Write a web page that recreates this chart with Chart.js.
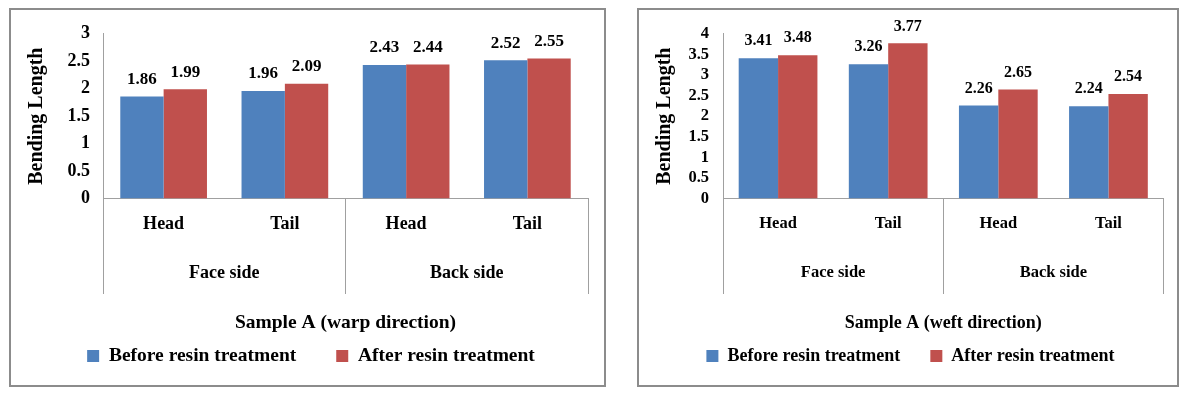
<!DOCTYPE html>
<html><head><meta charset="utf-8">
<script src="https://cdn.jsdelivr.net/npm/chart.js@4.4.1/dist/chart.umd.min.js"></script>
<style>
html,body{margin:0;padding:0;background:#fff;}
.box{position:absolute;top:8px;height:379px;border:2px solid #8c8c8c;box-sizing:border-box;background:#fff;}
#b1{left:9px;width:597px;}
#b2{left:637px;width:542px;}
.box canvas{display:block;}
</style></head><body>
<div class="box" id="b1"><canvas id="c1" width="593" height="375"></canvas></div>
<div class="box" id="b2"><canvas id="c2" width="538" height="375"></canvas></div>
<script>
// ---- data ----
const categories = ['Head', 'Tail', 'Head', 'Tail'];
const groups = ['Face side', 'Back side'];
const seriesNames = ['Before resin treatment', 'After resin treatment'];
const warpBefore = [1.86, 1.96, 2.43, 2.52];
const warpAfter = [1.99, 2.09, 2.44, 2.55];
const weftBefore = [3.41, 3.26, 2.26, 2.24];
const weftAfter = [3.48, 3.77, 2.65, 2.54];
const warpTitle = 'Sample A (warp direction)';
const weftTitle = 'Sample A (weft direction)';
const yTitle = 'Bending Length';
const warpMax = 3;
const weftMax = 4;
const yStep = 0.5;

// ---- styles ----
const BLUE = '#4F81BD';
const RED = '#C0504D';
const AXIS = '#a0a0a0';
const FAMILY = '"Liberation Serif", "Times New Roman", serif';

Chart.defaults.font.family = FAMILY;
Chart.defaults.font.weight = 'bold';
Chart.defaults.color = '#000';

const valueLabels = {
  id: 'valueLabels',
  afterDatasetsDraw(chart) {
    const ctx = chart.ctx;
    const size = chart.options.plugins.valueLabels.size;
    ctx.save();
    ctx.font = 'bold ' + size + 'px ' + FAMILY;
    ctx.fillStyle = '#000';
    ctx.textAlign = 'center';
    ctx.textBaseline = 'middle';
    chart.data.datasets.forEach((ds, i) => {
      chart.getDatasetMeta(i).data.forEach((bar, j) => {
        ctx.fillText(ds.data[j].toFixed(2), bar.x, bar.y - 17);
      });
    });
    ctx.restore();
  }
};

function makeChart(id, before, after, yMax, xTitle, L) {
  const H = 375;
  // legend text centre fixed at 346 (canvas); legend height = size + pad + 10
  const legendTop = 346 - L.legendPad - L.legendSize / 2;
  const padBottom = H - (legendTop + L.legendSize + L.legendPad + 10);
  const x2Height = legendTop - 238;
  const titlePadBottom = legendTop - (L.titleSize * 1.2) / 2 - 313;
  const catLH = L.catSize * 1.2;
  return new Chart(document.getElementById(id), {
    type: 'bar',
    data: {
      labels: categories,
      datasets: [
        { label: seriesNames[0], data: before, backgroundColor: BLUE, borderWidth: 0,
          barPercentage: 1, categoryPercentage: 0.715 },
        { label: seriesNames[1], data: after, backgroundColor: RED, borderWidth: 0,
          barPercentage: 1, categoryPercentage: 0.715 }
      ]
    },
    options: {
      responsive: false,
      animation: false,
      devicePixelRatio: 1,
      layout: { padding: { left: L.padLeft, right: L.padRight, top: 19, bottom: padBottom } },
      plugins: {
        legend: {
          position: 'bottom',
          labels: { boxWidth: 12, boxHeight: 12, padding: L.legendPad,
            font: { size: L.legendSize, weight: 'bold', family: FAMILY }, color: '#000' }
        },
        tooltip: { enabled: false },
        valueLabels: { size: L.labelSize }
      },
      scales: {
        y: {
          min: 0, max: yMax,
          grid: { display: false, drawTicks: false },
          border: { display: true, color: AXIS },
          ticks: { stepSize: yStep, autoSkip: false, padding: L.tickPad,
            callback: v => String(Number(v)),
            font: { size: L.tickSize, weight: 'bold' } },
          title: { display: true, text: yTitle, font: { size: 20, weight: 'bold' },
            padding: { top: L.yTitlePad, bottom: 0 } },
          afterFit: s => { s.width = L.yWidth; }
        },
        x: {
          weight: 0,
          grid: { display: true, drawOnChartArea: false, drawTicks: true, tickLength: 95.5, offset: true,
            color: c => (c.index === undefined || c.index % 2 === 0) ? AXIS : 'rgba(0,0,0,0)' },
          border: { display: true, color: AXIS },
          ticks: { padding: (224 - 10) - 188.5 - 95.5 - catLH / 2, font: { size: L.catSize, weight: 'bold' } },
          afterFit: s => { s.height = 49.5; }
        },
        x2: {
          type: 'category',
          position: 'bottom',
          weight: 1,
          labels: groups,
          offset: true,
          grid: { display: false, drawTicks: false },
          border: { display: false },
          ticks: { padding: 25 - catLH / 2, font: { size: L.catSize, weight: 'bold' } },
          title: { display: true, text: xTitle, font: { size: L.titleSize, weight: 'bold' },
            padding: { top: 0, bottom: titlePadBottom } },
          afterFit: s => { s.height = x2Height; }
        }
      }
    },
    plugins: [valueLabels]
  });
}

makeChart('c1', warpBefore, warpAfter, warpMax, warpTitle,
  { padLeft: 23, padRight: 16, yWidth: 69, yTitlePad: -9, tickPad: 13, legendPad: 40,
    legendSize: 19.5, titleSize: 19.5, catSize: 18, tickSize: 18, labelSize: 17 });
makeChart('c2', weftBefore, weftAfter, weftMax, weftTitle,
  { padLeft: 18.5, padRight: 13.5, yWidth: 65.5, yTitlePad: -4.5, tickPad: 14, legendPad: 30,
    legendSize: 18, titleSize: 18, catSize: 16.5, tickSize: 16.5, labelSize: 16 });
</script>
</body></html>
